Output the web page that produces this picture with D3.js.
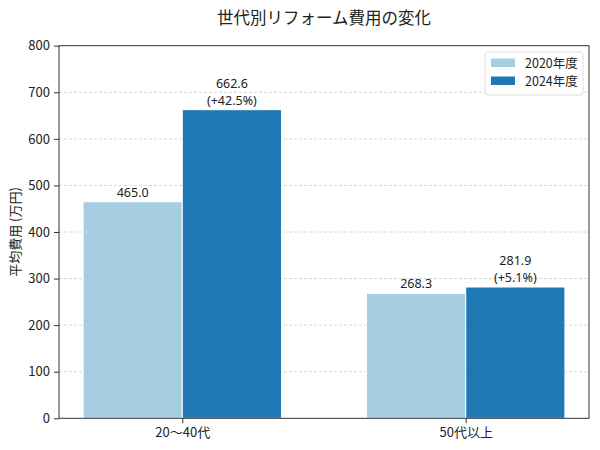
<!DOCTYPE html>
<html><head><meta charset="utf-8">
<script src="https://cdn.jsdelivr.net/npm/d3@7"></script>
<style>body{margin:0;background:#fff}svg{display:block;font-family:"Noto Sans CJK JP","Noto Sans",sans-serif}</style>
</head><body><svg id="c" width="600" height="450"></svg>
<script>
const categories = ["20〜40代", "50代以上"];
const seriesNames = ["2020年度", "2024年度"];
const values2020 = [465.0, 268.3];
const values2024 = [662.6, 281.9];
const changeLabels = ["(+42.5%)", "(+5.1%)"];
const yTicks = [0, 100, 200, 300, 400, 500, 600, 700, 800];
const colors = ["#a6cee3", "#1f78b4"];

const svg = d3.select("#c");
const m = {l: 59, r: 589, t: 45.7, b: 418.3};
const x = d3.scaleLinear().domain([-0.435, 1.435]).range([m.l, m.r]);
const y = d3.scaleLinear().domain([0, 800]).range([m.b, m.t]);
const bw = 0.35;

// grid
svg.append("g").selectAll("line").data(yTicks.filter(d => d > 0 && d < 800)).join("line")
  .attr("x1", m.l).attr("x2", m.r).attr("y1", d => y(d)).attr("y2", d => y(d))
  .attr("stroke", "#cccccc").attr("stroke-width", 0.8).attr("stroke-dasharray", "3,2");

const series = [values2020, values2024];
series.forEach((vals, si) => {
  const off = si === 0 ? -bw / 2 : bw / 2;
  svg.append("g").selectAll("rect").data(vals).join("rect")
    .attr("x", (d, i) => x(i + off - bw / 2))
    .attr("width", x(bw) - x(0))
    .attr("y", d => y(d))
    .attr("height", d => y(0) - y(d))
    .attr("fill", colors[si]).attr("stroke", "#fff").attr("stroke-width", 1);
});

// labels
const lab = svg.append("g").attr("font-size", 12.5).attr("fill", "#222").attr("text-anchor", "middle")
  .attr("font-family", "'Noto Sans',sans-serif");
values2020.forEach((v, i) => {
  lab.append("text").attr("x", x(i - bw / 2)).attr("y", y(v) - 5).text(v.toFixed(1));
});
values2024.forEach((v, i) => {
  lab.append("text").attr("x", x(i + bw / 2)).attr("y", y(v) - 22).text(v.toFixed(1));
  lab.append("text").attr("x", x(i + bw / 2)).attr("y", y(v) - 5).text(changeLabels[i]);
});

// axes
const ya = svg.append("g").attr("transform", `translate(${m.l},0)`)
  .call(d3.axisLeft(y).tickValues(yTicks).tickSize(5).tickPadding(4));
const xa = svg.append("g").attr("transform", `translate(0,${m.b})`)
  .call(d3.axisBottom(x).tickValues([0, 1]).tickFormat((d, i) => categories[i]).tickSize(5).tickPadding(4));
[ya, xa].forEach(a => {
  a.select(".domain").remove();
  a.selectAll("text").attr("font-size", 13).attr("fill", "#222").attr("font-family", "Noto Sans CJK JP");
  a.selectAll("line").attr("stroke", "#333");
});
svg.append("rect").attr("x", m.l).attr("y", m.t).attr("width", m.r - m.l).attr("height", m.b - m.t)
  .attr("fill", "none").attr("stroke", "#333").attr("stroke-width", 1);

// title and y label
svg.append("text").attr("x", (m.l + m.r) / 2).attr("y", 24).attr("text-anchor", "middle")
  .attr("font-size", 16.5).attr("fill", "#222").text("世代別リフォーム費用の変化");
svg.append("text").attr("transform", `translate(20,${(m.t + m.b) / 2}) rotate(-90)`)
  .attr("text-anchor", "middle").attr("font-size", 13).attr("fill", "#222").text("平均費用 (万円)");

// legend
const lg = svg.append("g").attr("transform", "translate(485,52)");
lg.append("rect").attr("width", 98).attr("height", 43).attr("rx", 3).attr("fill", "#fff")
  .attr("fill-opacity", 0.8).attr("stroke", "#dddddd");
seriesNames.forEach((n, i) => {
  lg.append("rect").attr("x", 6).attr("y", 6.5 + i * 18).attr("width", 24).attr("height", 8.5).attr("fill", colors[i]);
  lg.append("text").attr("x", 40).attr("y", 15.5 + i * 18).attr("font-size", 12.5).attr("fill", "#222").text(n);
});
</script></body></html>
